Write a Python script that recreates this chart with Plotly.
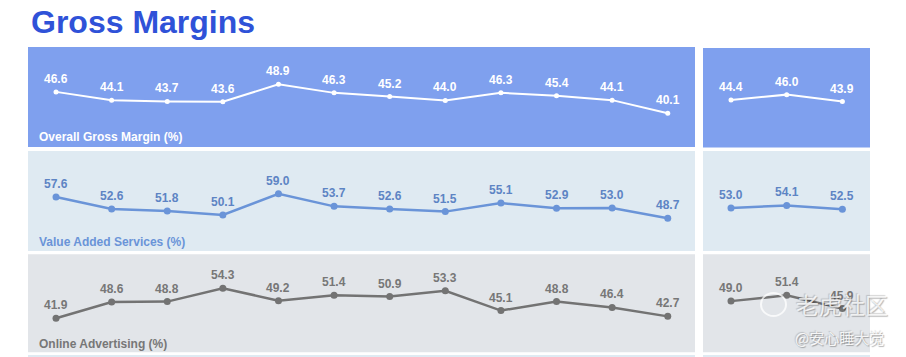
import plotly.graph_objects as go

# ---- data ----
periods_main = ["Q1", "Q2", "Q3", "Q4", "Q5", "Q6", "Q7", "Q8", "Q9", "Q10", "Q11", "Q12"]
periods_side = ["A", "B", "C"]

overall_main = [46.6, 44.1, 43.7, 43.6, 48.9, 46.3, 45.2, 44.0, 46.3, 45.4, 44.1, 40.1]
overall_side = [44.4, 46.0, 43.9]
vas_main = [57.6, 52.6, 51.8, 50.1, 59.0, 53.7, 52.6, 51.5, 55.1, 52.9, 53.0, 48.7]
vas_side = [53.0, 54.1, 52.5]
ad_main = [41.9, 48.6, 48.8, 54.3, 49.2, 51.4, 50.9, 53.3, 45.1, 48.8, 46.4, 42.7]
ad_side = [49.0, 51.4, 45.9]

panel_titles = ["Overall Gross Margin (%)", "Value Added Services (%)", "Online Advertising (%)"]

W, H = 906, 357
FONT = "Liberation Sans, Arial, sans-serif"


def px_x(a, b):
    return [a / W, b / W]


def px_y(top, bottom):
    return [1 - bottom / H, 1 - top / H]


panels = [
    dict(main=overall_main, side=overall_side, bg="#7fa0ee", line="#ffffff",
         text="#ffffff", msize=5, lw=2, yr=[29.9, 60.2],
         dom_main=(47, 147), dom_side=(48, 147.5), title_y=137, tcol="#ffffff"),
    dict(main=vas_main, side=vas_side, bg="#dfeaf2", line="#6a94d8",
         text="#5d84c4", msize=7, lw=2.5, yr=[35.0, 76.9],
         dom_main=(151, 251), dom_side=(151, 251), title_y=242, tcol="#6a94d8"),
    dict(main=ad_main, side=ad_side, bg="#e2e5e9", line="#737373",
         text="#777777", msize=7, lw=2.5, yr=[27.85, 68.35],
         dom_main=(254.3, 352.3), dom_side=(254.3, 352.3), title_y=344, tcol="#777777"),
]

fig = go.Figure()
layout = dict(
    width=W, height=H, margin=dict(l=0, r=0, t=0, b=0),
    paper_bgcolor="white", plot_bgcolor="rgba(0,0,0,0)", showlegend=False,
    font=dict(family=FONT),
)
shapes = []
annotations = []

ax = 1
for pi, p in enumerate(panels):
    for which in ("main", "side"):
        xa = "x" if ax == 1 else f"x{ax}"
        ya = "y" if ax == 1 else f"y{ax}"
        key = "" if ax == 1 else str(ax)
        if which == "main":
            cats = list(range(len(periods_main)))
            vals = p["main"]
            xdom = px_x(28, 695)
            xr = [-0.504, 11.49]
            ydom = px_y(*p["dom_main"])
        else:
            cats = list(range(len(periods_side)))
            vals = p["side"]
            xdom = px_x(703, 870)
            xr = [-0.503, 2.496]
            ydom = px_y(*p["dom_side"])
        layout["xaxis" + key] = dict(domain=xdom, range=xr, visible=False, anchor=ya, fixedrange=True)
        layout["yaxis" + key] = dict(domain=ydom, range=p["yr"], visible=False, anchor=xa, fixedrange=True)
        shapes.append(dict(type="rect", xref=f"{xa} domain", yref=f"{ya} domain",
                           x0=0, x1=1, y0=0, y1=1, fillcolor=p["bg"],
                           line=dict(width=0), layer="below"))
        fig.add_trace(go.Scatter(
            x=cats, y=vals, mode="lines+markers", xaxis=xa, yaxis=ya,
            line=dict(color=p["line"], width=p["lw"]),
            marker=dict(color=p["line"], size=p["msize"]),
            hoverinfo="skip", cliponaxis=False,
        ))
        for c, v in zip(cats, vals):
            annotations.append(dict(
                x=c, y=v, xref=xa, yref=ya, text=f"<b>{v:.1f}</b>", showarrow=False,
                yshift=13, font=dict(size=12, color=p["text"], family=FONT),
            ))
        ax += 1
    annotations.append(dict(
        x=37 / W, y=1 - p["title_y"] / H, xref="paper", yref="paper",
        xanchor="left", yanchor="middle", showarrow=False,
        text=f"<b>{panel_titles[pi]}</b>",
        font=dict(size=12, color=p["tcol"], family=FONT),
    ))

# partial strip at the bottom (next panel row)
for a, b in ((28, 695), (703, 870)):
    shapes.append(dict(type="rect", xref="paper", yref="paper",
                       x0=a / W, x1=b / W, y0=0, y1=1 - 355 / H,
                       fillcolor="#dfeaf2", line=dict(width=0), layer="below"))

# title
annotations.append(dict(
    x=29 / W, y=1 - 22 / H, xref="paper", yref="paper", xanchor="left", yanchor="middle",
    showarrow=False, text="<b>Gross Margins</b>",
    font=dict(size=32, color="#2f52d8", family=FONT),
))

# watermark
WM_SHADOW = "1px 1px 1px rgba(0,0,0,0.35), -1px -1px 1px rgba(0,0,0,0.2)"
annotations.append(dict(
    x=794 / W, y=1 - 304 / H, xref="paper", yref="paper", xanchor="left", yanchor="middle",
    showarrow=False, text="老虎社区",
    font=dict(size=23, color="rgba(255,255,255,0.8)", family="Noto Sans CJK SC",
              shadow=WM_SHADOW),
))
annotations.append(dict(
    x=793 / W, y=1 - 337 / H, xref="paper", yref="paper", xanchor="left", yanchor="middle",
    showarrow=False, text="@安心睡大觉",
    font=dict(size=15, color="rgba(255,255,255,0.85)", family="Noto Sans CJK SC",
              shadow=WM_SHADOW),
))
shapes.append(dict(type="circle", xref="paper", yref="paper",
                   x0=761 / W, x1=786 / W, y0=1 - 316 / H, y1=1 - 293 / H,
                   line=dict(color="rgba(255,255,255,0.75)", width=2)))

layout["shapes"] = shapes
layout["annotations"] = annotations
fig.update_layout(**layout)
fig.write_html("out.html", config={"displayModeBar": False},
               post_script="document.body.style.margin='0';")
